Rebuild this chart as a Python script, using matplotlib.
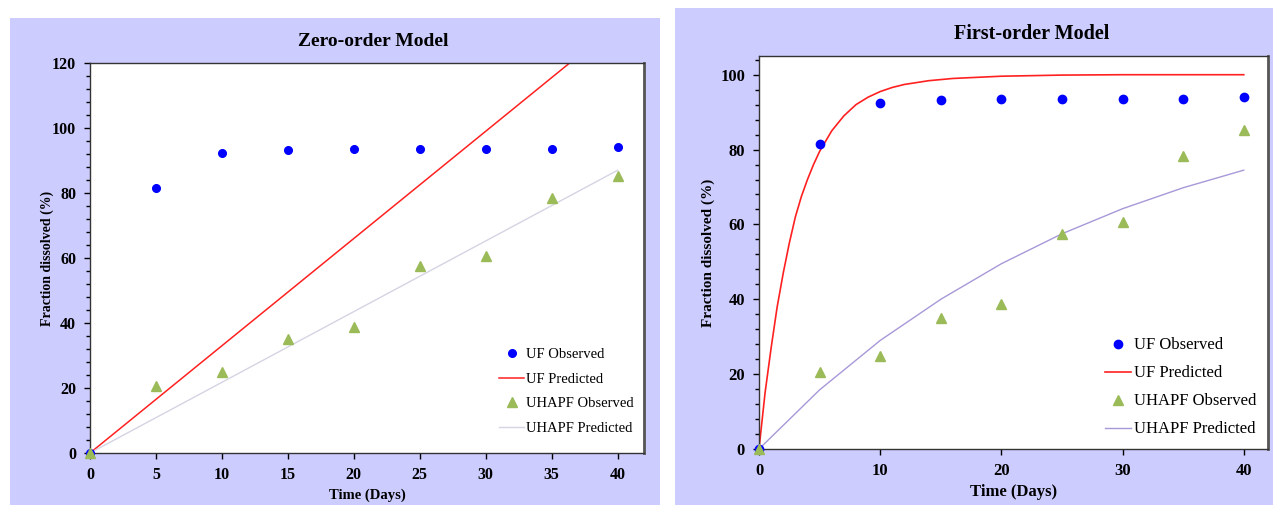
import matplotlib
matplotlib.use('Agg')
import matplotlib.pyplot as plt
from matplotlib.patches import Rectangle
from matplotlib.ticker import MultipleLocator

plt.rcParams['font.family'] = ['Liberation Serif', 'DejaVu Serif']

# Observed data (both models share the same observations)
days = [0, 5, 10, 15, 20, 25, 30, 35, 40]
uf_observed = [0, 81.6, 92.4, 93.3, 93.4, 93.6, 93.6, 93.6, 94.1]
uhapf_observed = [0, 20.5, 24.8, 35.0, 38.8, 57.5, 60.6, 78.4, 85.2]

# Zero-order model predictions
zero_days = [0, 40]
zero_uf_pred = [0, 132.0]
zero_uhapf_pred = [0, 87.0]

# First-order model predictions
first_uf_days = [0, 0.5, 1, 1.5, 2, 2.5, 3, 3.5, 4, 4.5, 5, 6, 7, 8, 9, 10, 11, 12, 14, 16, 20, 25, 30, 35, 40]
first_uf_pred = [0, 15, 27, 38, 47, 55, 62, 67.5, 72, 76, 79.5, 85, 89, 92, 94, 95.5, 96.6, 97.4, 98.4, 99.0,
                 99.6, 99.9, 100, 100, 100]
first_uhapf_days = [0, 5, 10, 15, 20, 25, 30, 35, 40]
first_uhapf_pred = [0, 15.8, 29.0, 40.0, 49.5, 57.5, 64.2, 69.8, 74.5]

W, H = 1273, 505
fig = plt.figure(figsize=(W / 100, H / 100), dpi=100)
fig.patch.set_facecolor('white')

# lavender panel backgrounds
fig.patches.append(Rectangle((10 / W, 0), 650 / W, (H - 18) / H, transform=fig.transFigure,
                             facecolor='#CCCCFF', edgecolor='none', zorder=-10))
fig.patches.append(Rectangle((675 / W, 0), 598 / W, (H - 8) / H, transform=fig.transFigure,
                             facecolor='#CCCCFF', edgecolor='none', zorder=-10))


def make_axes(px_left, px_right, px_top, px_bottom):
    return fig.add_axes([px_left / W, (H - px_bottom) / H,
                         (px_right - px_left) / W, (px_bottom - px_top) / H])


def style_axes(ax, ymax, xmajor, tick_size):
    ax.set_facecolor('white')
    ax.set_xlim(0, 42)
    ax.set_ylim(0, ymax)
    ax.xaxis.set_major_locator(MultipleLocator(xmajor))
    ax.yaxis.set_major_locator(MultipleLocator(20))
    ax.yaxis.set_minor_locator(MultipleLocator(4))
    ax.tick_params(axis='both', which='major', direction='out', length=4, width=1,
                   labelsize=tick_size, colors='black', pad=6)
    ax.tick_params(axis='y', which='minor', direction='out', length=3, width=1)
    for lab in ax.get_xticklabels() + ax.get_yticklabels():
        lab.set_fontweight('bold')
    for s in ax.spines.values():
        s.set_color('#333333')
        s.set_linewidth(1.0)
    ax.spines['right'].set_linewidth(2.0)
    ax.spines['right'].set_color('#555555')


# ---- Zero-order panel ----
ax1 = make_axes(90, 644, 63, 453)
ax1.plot(days, uf_observed, 'o', color='#0000FF', markersize=5.5, label='UF Observed', clip_on=False, zorder=3)
ax1.plot(zero_days, zero_uf_pred, '-', color='#FF2020', linewidth=1.1, label='UF Predicted', zorder=2)
ax1.plot(days, uhapf_observed, '^', color='#9BBB59', markersize=7, label='UHAPF Observed', clip_on=False, zorder=4)
ax1.plot(zero_days, zero_uhapf_pred, '-', color='#D4D4E4', linewidth=1.0, label='UHAPF Predicted', zorder=2)
style_axes(ax1, 120, 5, 11.5)
ax1.set_title('Zero-order Model', fontsize=14, fontweight='bold', pad=12, x=0.511)
ax1.set_xlabel('Time (Days)', fontsize=10.5, fontweight='bold', labelpad=4)
ax1.set_ylabel('Fraction dissolved (%)', fontsize=10, fontweight='bold')
ax1.yaxis.set_label_coords(-0.065, 0.5)
ax1.legend(loc='lower right', bbox_to_anchor=(1.0, 0.02), frameon=False, fontsize=10.5,
           handlelength=1.7, handletextpad=0.15, labelspacing=0.78, borderaxespad=0.3)

# ---- First-order panel ----
ax2 = make_axes(759, 1268, 56, 449)
ax2.plot(days, uf_observed, 'o', color='#0000FF', markersize=6, label='UF Observed', clip_on=False, zorder=3)
ax2.plot(first_uf_days, first_uf_pred, '-', color='#FF2020', linewidth=1.2, label='UF Predicted', zorder=2)
ax2.plot(days, uhapf_observed, '^', color='#9BBB59', markersize=7.5, label='UHAPF Observed', clip_on=False, zorder=4)
ax2.plot(first_uhapf_days, first_uhapf_pred, '-', color='#A898D8', linewidth=1.0, label='UHAPF Predicted', zorder=2)
style_axes(ax2, 105, 10, 12)
ax2.set_title('First-order Model', fontsize=14.5, fontweight='bold', pad=12, x=0.536)
ax2.set_xlabel('Time (Days)', fontsize=12, fontweight='bold', labelpad=4)
ax2.set_ylabel('Fraction dissolved (%)', fontsize=11, fontweight='bold')
ax2.yaxis.set_label_coords(-0.086, 0.5)
ax2.legend(loc='lower right', bbox_to_anchor=(1.0, 0.0), frameon=False, fontsize=12,
           handlelength=1.6, handletextpad=0.15, labelspacing=0.72, borderaxespad=0.3)

fig.savefig('out.png', dpi=100, facecolor=fig.get_facecolor())
